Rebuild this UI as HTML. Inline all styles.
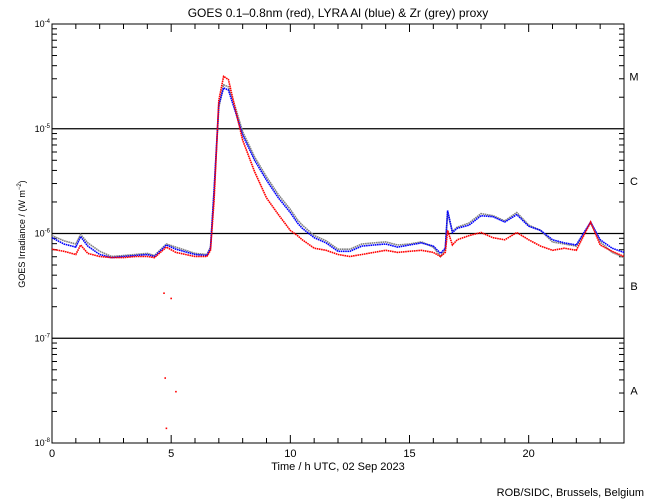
<!DOCTYPE html>
<html><head><meta charset="utf-8"><style>
body{margin:0;background:#fff}
svg{display:block;font-family:"Liberation Sans",sans-serif}
</style></head><body>
<svg id="chart" width="650" height="500" viewBox="0 0 650 500" xmlns="http://www.w3.org/2000/svg">
<rect width="650" height="500" fill="#fff"/>
<text x="338" y="17" font-size="12" text-anchor="middle">GOES 0.1–0.8nm (red), LYRA Al (blue) &amp; Zr (grey) proxy</text>
<text x="338" y="470" font-size="11" text-anchor="middle">Time / h UTC, 02 Sep 2023</text>
<text transform="translate(25,234) rotate(-90)" font-size="9" text-anchor="middle">GOES Irradiance / (W m<tspan font-size="6" dy="-4">−2</tspan><tspan dy="4">)</tspan></text>
<text x="644" y="496" font-size="11" text-anchor="end">ROB/SIDC, Brussels, Belgium</text>
<g id="axes"></g>
<g id="series"></g>
</svg>
<script>
const hours=[0,0.5,1,1.2,1.5,2,2.5,3,3.5,4,4.3,4.8,5.2,6,6.5,6.65,6.8,7.0,7.2,7.4,7.7,8,8.5,9,9.5,10,10.3,10.5,11,11.5,12,12.5,13,13.5,14,14.5,15,15.5,16,16.3,16.5,16.6,16.8,17,17.5,18,18.5,19,19.5,20,20.5,21,21.5,22,22.6,23,23.5,24];
const goesLog10=[-6.15,-6.17,-6.20,-6.11,-6.19,-6.22,-6.23,-6.23,-6.22,-6.22,-6.23,-6.13,-6.18,-6.22,-6.22,-6.16,-5.68,-4.73,-4.50,-4.53,-4.82,-5.11,-5.41,-5.66,-5.82,-5.97,-6.02,-6.06,-6.14,-6.16,-6.20,-6.22,-6.20,-6.18,-6.16,-6.18,-6.17,-6.16,-6.18,-6.22,-6.18,-5.97,-6.11,-6.06,-6.02,-5.99,-6.04,-6.06,-5.99,-6.06,-6.12,-6.16,-6.14,-6.16,-5.89,-6.11,-6.17,-6.22];
const alLog10=[-6.04,-6.10,-6.13,-6.03,-6.12,-6.20,-6.23,-6.22,-6.21,-6.20,-6.22,-6.11,-6.15,-6.20,-6.21,-6.14,-5.58,-4.77,-4.61,-4.63,-4.84,-5.06,-5.30,-5.49,-5.66,-5.80,-5.90,-5.95,-6.04,-6.09,-6.17,-6.17,-6.12,-6.11,-6.10,-6.13,-6.11,-6.09,-6.12,-6.19,-6.14,-5.78,-5.99,-5.95,-5.92,-5.83,-5.84,-5.89,-5.82,-5.93,-5.97,-6.06,-6.09,-6.11,-5.89,-6.06,-6.14,-6.18];
const zrLog10=[-6.02,-6.07,-6.10,-6.01,-6.09,-6.17,-6.22,-6.21,-6.20,-6.19,-6.21,-6.10,-6.13,-6.19,-6.20,-6.13,-5.60,-4.80,-4.58,-4.60,-4.80,-5.03,-5.27,-5.46,-5.63,-5.77,-5.87,-5.92,-6.02,-6.07,-6.15,-6.15,-6.10,-6.09,-6.08,-6.11,-6.10,-6.08,-6.13,-6.22,-6.15,-5.80,-5.98,-5.94,-5.90,-5.81,-5.83,-5.88,-5.80,-5.92,-5.97,-6.08,-6.10,-6.12,-5.90,-6.08,-6.18,-6.23];
const outlierHours=[4.7,4.75,4.8,5.0,5.2];
const outlierLog10=[-6.57,-7.38,-7.86,-6.62,-7.51];
const xTicks=[0,5,10,15,20];
const decades=[-4,-5,-6,-7,-8];
const classes=["M","C","B","A"];

const X0=52,X1=624,Y0=24,Y1=443;
const xs=h=>X0+(X1-X0)*h/24;
const ys=e=>Y0+(Y1-Y0)*(-4-e)/4;
const NS="http://www.w3.org/2000/svg";
const axes=document.getElementById('axes'),ser=document.getElementById('series');
function mk(tag,attrs,parent){const el=document.createElementNS(NS,tag);for(const k in attrs)el.setAttribute(k,attrs[k]);parent.appendChild(el);return el;}

const frame=mk('rect',{x:X0,y:Y0,width:X1-X0,height:Y1-Y0,fill:'none',stroke:'#000','stroke-width':1},axes);



for(let h=0;h<=24;h++){
  const len=h%5===0?8:5;
  const t1=mk('line',{x1:xs(h),x2:xs(h),y1:Y1,y2:Y1-len,stroke:'#000'},axes);
  
  
  const t2=mk('line',{x1:xs(h),x2:xs(h),y1:Y0,y2:Y0+len,stroke:'#000'},axes);
  
  
}
xTicks.forEach(v=>{
  const t=mk('text',{x:xs(v),y:457,'font-size':11,'text-anchor':'middle'},axes);
  t.textContent=v;
  
  
});
decades.forEach((d,i)=>{
  const y=ys(d);
  const lab=mk('text',{x:50,y:y+3,'font-size':9,'text-anchor':'end'},axes);
  lab.innerHTML='10<tspan font-size="6" dy="-4">'+d+'</tspan>';
  
  
  if(d>-8&&d<-4){
    const ln=mk('line',{x1:X0,x2:X1,y1:y,y2:y,stroke:'#000','stroke-width':1.2},axes);
    
    
  }
  if(d>-8){
    for(let m=2;m<=9;m++){
      const yy=ys(d-1+Math.log10(m));
      const a=mk('line',{x1:X0,x2:X0+5,y1:yy,y2:yy,stroke:'#000'},axes);
      
      
      const b=mk('line',{x1:X1,x2:X1-5,y1:yy,y2:yy,stroke:'#000'},axes);
      
      
    }
  }
});
classes.forEach((c,i)=>{
  const t=mk('text',{x:634,y:ys(-4.5-i)+4,'font-size':11,'text-anchor':'middle'},axes);
  t.textContent=c;
  
  
});

function line(arr,color,name){
  const pts=hours.map((h,i)=>xs(h).toFixed(1)+','+ys(arr[i]).toFixed(1)).join(' ');
  const p=mk('polyline',{points:pts,fill:'none',stroke:color,'stroke-width':1.6,'stroke-dasharray':'1.6 0.6'},ser);
  
  
}
line(zrLog10,'#808080','zr-series');
line(alLog10,'#0000ff','al-series');
line(goesLog10,'#ff0000','goes-series');
outlierHours.forEach((h,i)=>{
  const r=mk('rect',{x:xs(h)-0.8,y:ys(outlierLog10[i])-0.8,width:1.6,height:1.6,fill:'#ff0000'},ser);
  
  
});
</script>
</body></html>
